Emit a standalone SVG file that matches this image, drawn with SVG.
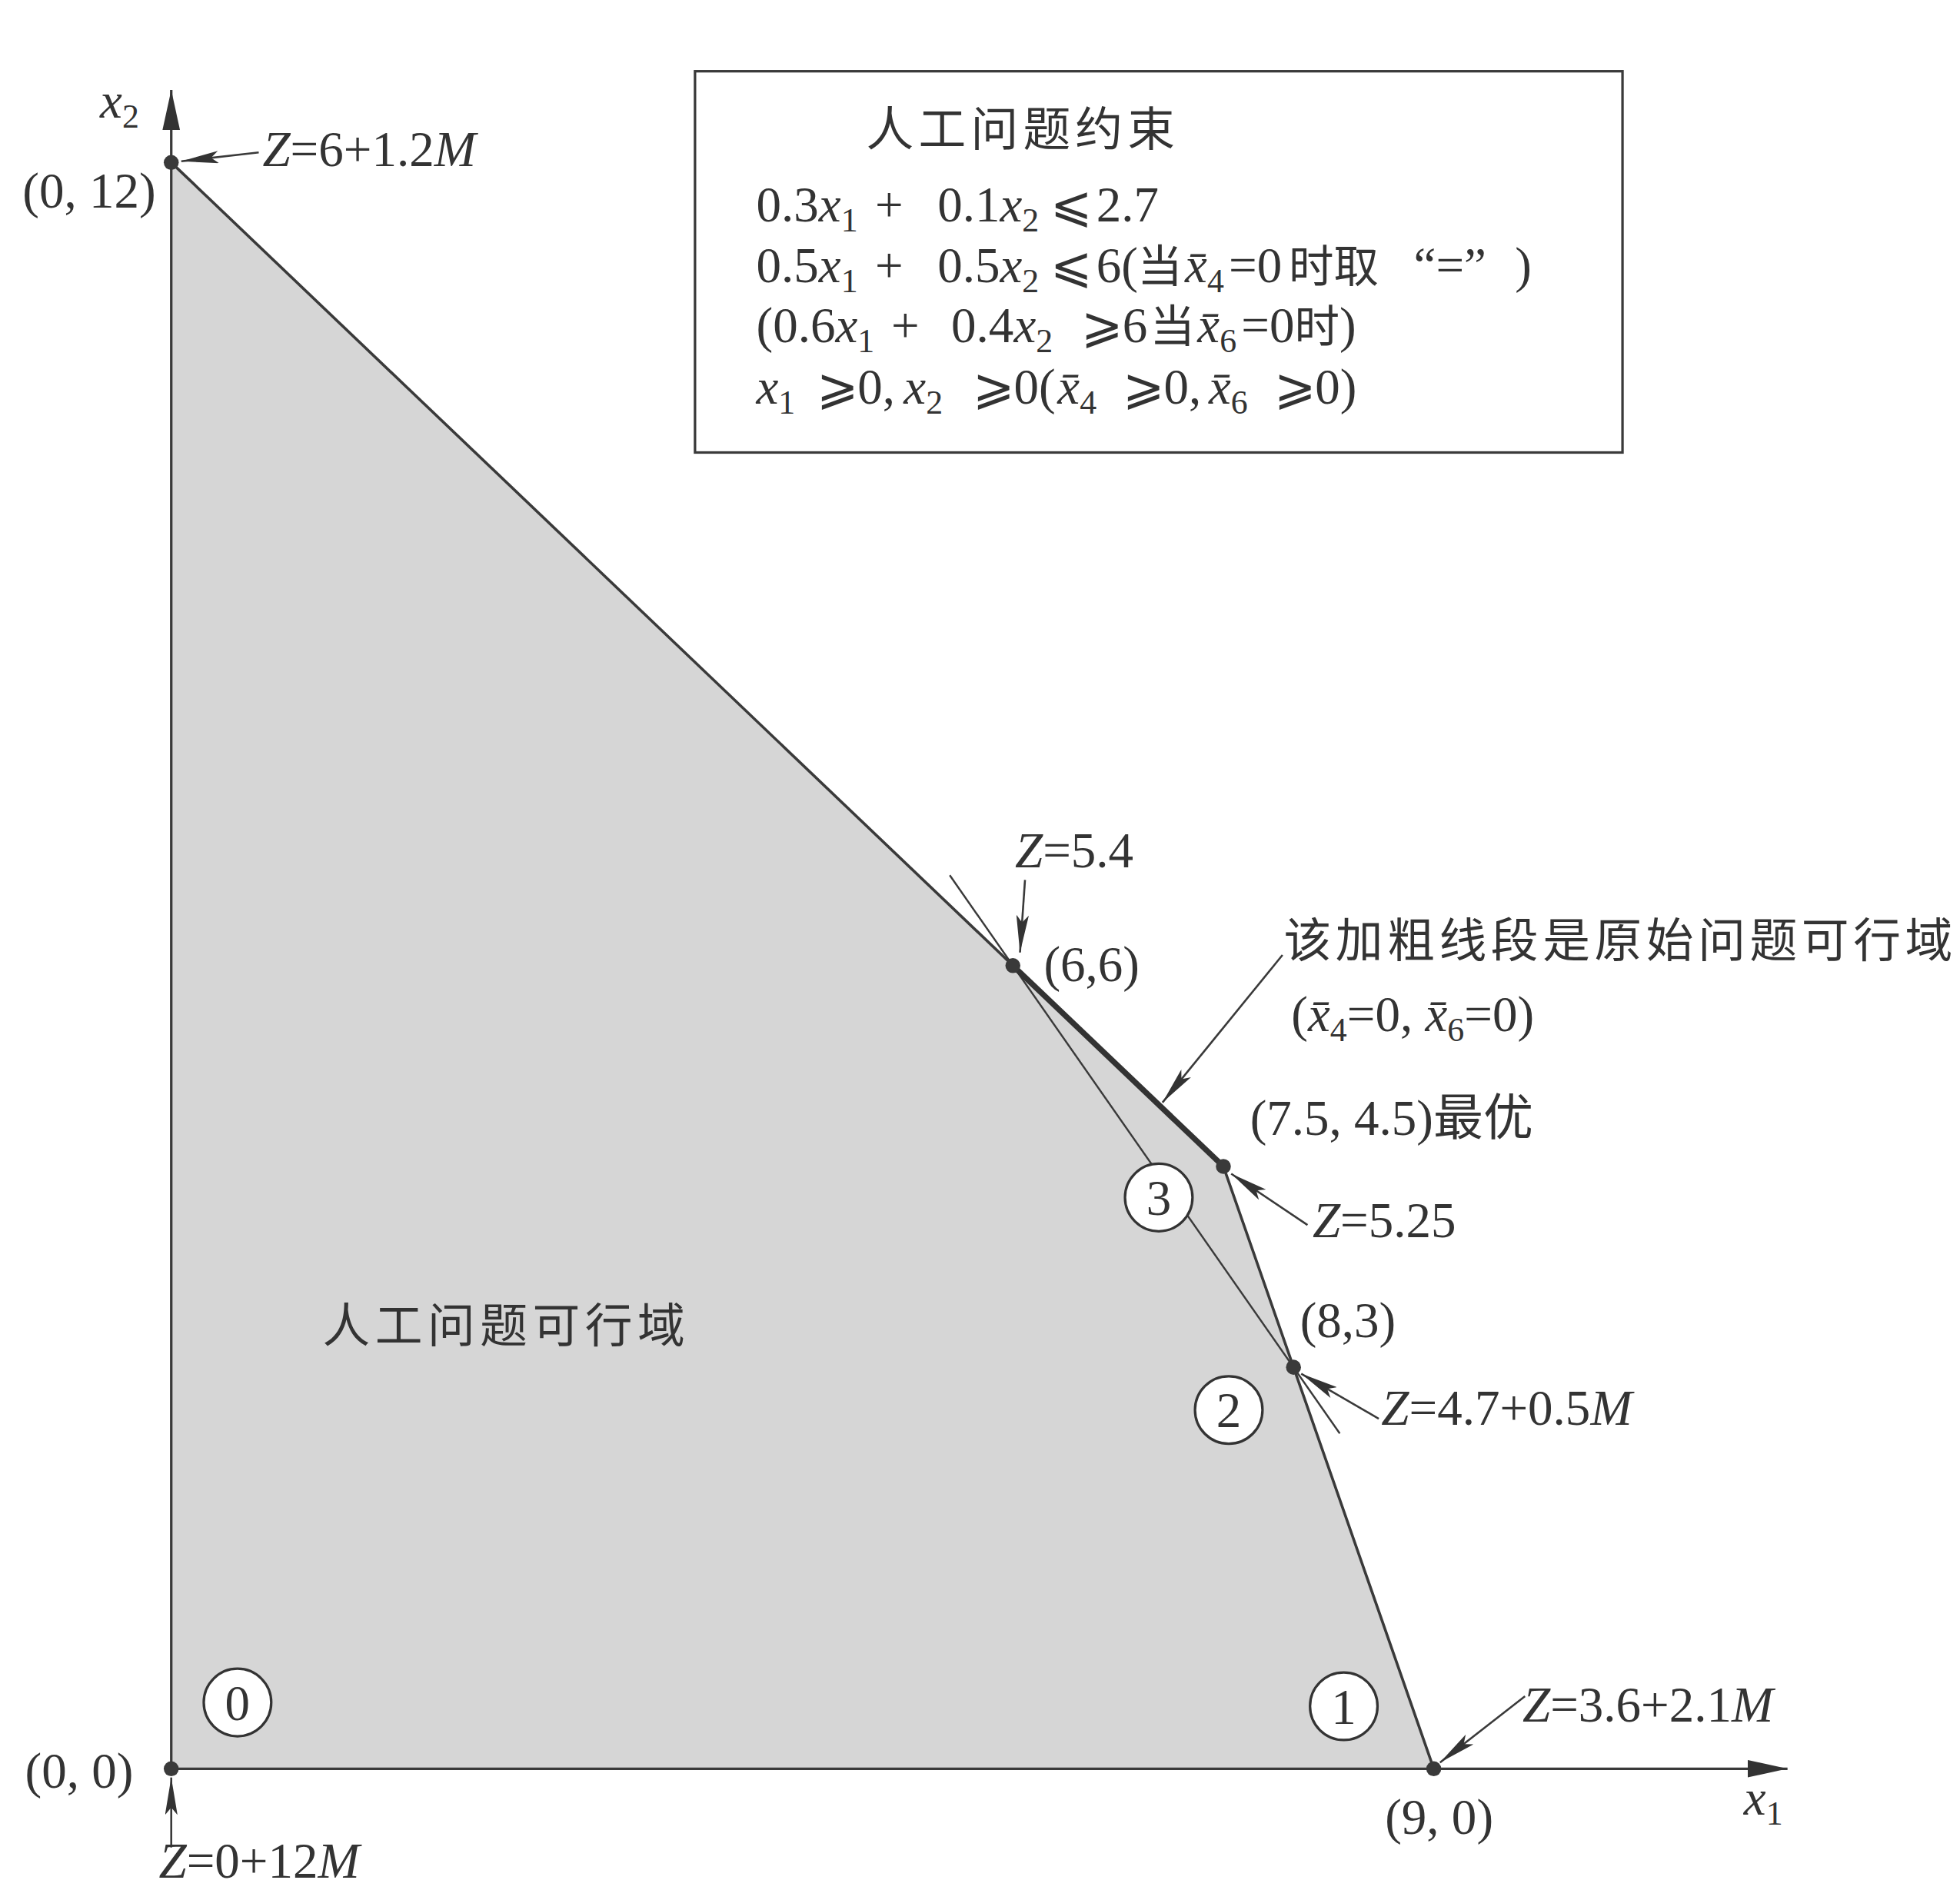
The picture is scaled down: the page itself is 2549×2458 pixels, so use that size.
<svg xmlns="http://www.w3.org/2000/svg" width="2549" height="2458" viewBox="0 0 2549 2458">
<style>
.ax{stroke:#3a3a3a;stroke-width:2;fill:none}
.bd{stroke:#3a3a3a;stroke-width:2.2;fill:none}
.bold{stroke:#333;stroke-width:4.5;fill:none}
.thin{stroke:#3a3a3a;stroke-width:1.5;fill:none}
.ld{stroke:#3a3a3a;stroke-width:1.6;fill:none}
.t{font-family:"Liberation Serif","Noto Sans CJK SC",serif;fill:#333;font-size:40px}
.cj{font-family:"Noto Sans CJK SC",sans-serif;fill:#333;font-size:38px}
.k{font-family:"Noto Sans CJK SC",sans-serif;font-size:36px}
.i{font-style:italic}
.sub{font-size:27px}
.dot{fill:#3a3a3a}
.circ{fill:#fff;stroke:#333;stroke-width:2}
</style>
<defs>
<marker id="ah" viewBox="0 0 30 10" refX="30" refY="5" markerWidth="30" markerHeight="10" markerUnits="userSpaceOnUse" orient="auto"><path d="M0,0 L30,5 L0,10 L6,5 z" fill="#333"/></marker>
<marker id="axh" viewBox="0 0 32 14" refX="32" refY="7" markerWidth="32" markerHeight="14" markerUnits="userSpaceOnUse" orient="auto"><path d="M0,0 L32,7 L0,14 z" fill="#333"/></marker>
</defs>
<rect width="2549" height="2458" fill="#fff"/>
<g transform="scale(1.62564)">
<g id="region">
<polygon points="137,130 978.7,933.1 1147,1415 137,1415" fill="#d6d6d6"/>
</g>
<g id="axes">
<line class="ax" x1="137" y1="1415" x2="137" y2="72" marker-end="url(#axh)"/>
<line class="ax" x1="137" y1="1415" x2="1430" y2="1415" marker-end="url(#axh)"/>
<text class="t" x="80" y="94"><tspan class="i">x</tspan><tspan class="sub" dy="8">2</tspan></text>
<text class="t" x="1395" y="1452"><tspan class="i">x</tspan><tspan class="sub" dy="8">1</tspan></text>
</g>
<g id="lines">
<polyline class="bd" points="137,130 978.7,933.1 1147,1415"/>
<line class="thin" x1="759.8" y1="700.2" x2="1071.8" y2="1146.8"/>
<line class="bold" x1="810.3" y1="772.5" x2="978.7" y2="933.1"/>
</g>
<g id="connectors">
<line class="ld" x1="207" y1="122" x2="145" y2="129" marker-end="url(#ah)"/>
<line class="ld" x1="820" y1="704" x2="816" y2="762" marker-end="url(#ah)"/>
<line class="ld" x1="1026" y1="764" x2="930" y2="882" marker-end="url(#ah)"/>
<line class="ld" x1="1046" y1="980" x2="985" y2="939" marker-end="url(#ah)"/>
<line class="ld" x1="1103" y1="1135" x2="1041" y2="1099" marker-end="url(#ah)"/>
<line class="ld" x1="1220" y1="1357" x2="1152" y2="1410" marker-end="url(#ah)"/>
<line class="ld" x1="137" y1="1478" x2="137" y2="1422" marker-end="url(#ah)"/>
</g>
<g id="points">
<circle class="dot" cx="137" cy="130" r="6"/>
<circle class="dot" cx="810.3" cy="772.5" r="6"/>
<circle class="dot" cx="978.7" cy="933.1" r="6"/>
<circle class="dot" cx="1034.8" cy="1093.8" r="6"/>
<circle class="dot" cx="1147" cy="1415" r="6"/>
<circle class="dot" cx="137" cy="1415" r="6"/>
</g>
<g id="node-0"><circle class="circ" cx="190" cy="1362" r="27"/><text class="t" x="190" y="1376" text-anchor="middle" font-size="38">0</text></g>
<g id="node-1"><circle class="circ" cx="1075" cy="1365" r="27"/><text class="t" x="1075" y="1379" text-anchor="middle" font-size="38">1</text></g>
<g id="node-2"><circle class="circ" cx="983" cy="1128" r="27"/><text class="t" x="983" y="1142" text-anchor="middle" font-size="38">2</text></g>
<g id="node-3"><circle class="circ" cx="927" cy="958" r="27"/><text class="t" x="927" y="972" text-anchor="middle" font-size="38">3</text></g>
<g id="box">
<rect x="556" y="57" width="742" height="305" fill="#fff" stroke="#3a3a3a" stroke-width="2"/>
<text class="cj" x="693" y="117" textLength="247" lengthAdjust="spacing">人工问题约束</text>
<text class="t" y="177"><tspan x="605">0.3</tspan><tspan class="i">x</tspan><tspan class="sub" dy="8">1</tspan><tspan x="700" dy="-8">+</tspan><tspan x="750">0.1</tspan><tspan class="i">x</tspan><tspan class="sub" dy="8">2</tspan><tspan x="840" dy="-8">⩽</tspan><tspan x="877">2.7</tspan></text>
<text class="t" y="226"><tspan x="605">0.5</tspan><tspan class="i">x</tspan><tspan class="sub" dy="8">1</tspan><tspan x="700" dy="-8">+</tspan><tspan x="750">0.5</tspan><tspan class="i">x</tspan><tspan class="sub" dy="8">2</tspan><tspan x="840" dy="-8">⩽</tspan><tspan x="877">6(</tspan><tspan x="910" class="k">当</tspan><tspan x="948" class="i">x&#x304;</tspan><tspan class="sub" dy="8">4</tspan><tspan x="983" dy="-8">=0</tspan><tspan x="1031" class="k">时取</tspan><tspan x="1131">“=”</tspan><tspan x="1212">)</tspan></text>
<text class="t" y="274"><tspan x="605">(0.6</tspan><tspan class="i">x</tspan><tspan class="sub" dy="8">1</tspan><tspan x="713" dy="-8">+</tspan><tspan x="761">0.4</tspan><tspan class="i">x</tspan><tspan class="sub" dy="8">2</tspan><tspan x="865" dy="-8">⩾</tspan><tspan x="898">6</tspan><tspan x="920" class="k">当</tspan><tspan x="958" class="i">x&#x304;</tspan><tspan class="sub" dy="8">6</tspan><tspan x="993" dy="-8">=0</tspan><tspan class="k">时</tspan><tspan>)</tspan></text>
<text class="t" y="323"><tspan x="605" class="i">x</tspan><tspan class="sub" dy="8">1</tspan><tspan x="653" dy="-8">⩾</tspan><tspan x="686">0,</tspan><tspan x="723" class="i">x</tspan><tspan class="sub" dy="8">2</tspan><tspan x="778" dy="-8">⩾</tspan><tspan x="811">0(</tspan><tspan x="846" class="i">x&#x304;</tspan><tspan class="sub" dy="8">4</tspan><tspan x="898" dy="-8">⩾</tspan><tspan x="931">0,</tspan><tspan x="967" class="i">x&#x304;</tspan><tspan class="sub" dy="8">6</tspan><tspan x="1019" dy="-8">⩾</tspan><tspan x="1052">0)</tspan></text>
</g>
<g id="labels">
<text class="t" x="210" y="133"><tspan class="i">Z</tspan>=6+1.2<tspan class="i">M</tspan></text>
<text class="t" x="18" y="166">(0, 12)</text>
<text class="t" x="812" y="694"><tspan class="i">Z</tspan>=5.4</text>
<text class="t" x="835" y="785">(6,6)</text>
<text class="cj" x="1027" y="766" textLength="535" lengthAdjust="spacing">该加粗线段是原始问题可行域</text>
<text class="t" x="1033" y="825">(<tspan class="i">x&#x304;</tspan><tspan class="sub" dy="8">4</tspan><tspan dy="-8">=0, </tspan><tspan class="i">x&#x304;</tspan><tspan class="sub" dy="8">6</tspan><tspan dy="-8">=0)</tspan></text>
<text class="t" x="1000" y="908">(7.5, 4.5)最优</text>
<text class="t" x="1050" y="990"><tspan class="i">Z</tspan>=5.25</text>
<text class="t" x="1040" y="1070">(8,3)</text>
<text class="t" x="1105" y="1140"><tspan class="i">Z</tspan>=4.7+0.5<tspan class="i">M</tspan></text>
<text class="cj" x="258" y="1074" textLength="290" lengthAdjust="spacing">人工问题可行域</text>
<text class="t" x="1218" y="1377"><tspan class="i">Z</tspan>=3.6+2.1<tspan class="i">M</tspan></text>
<text class="t" x="20" y="1430">(0, 0)</text>
<text class="t" x="1108" y="1467">(9, 0)</text>
<text class="t" x="127" y="1502"><tspan class="i">Z</tspan>=0+12<tspan class="i">M</tspan></text>
</g>
</g>
</svg>
